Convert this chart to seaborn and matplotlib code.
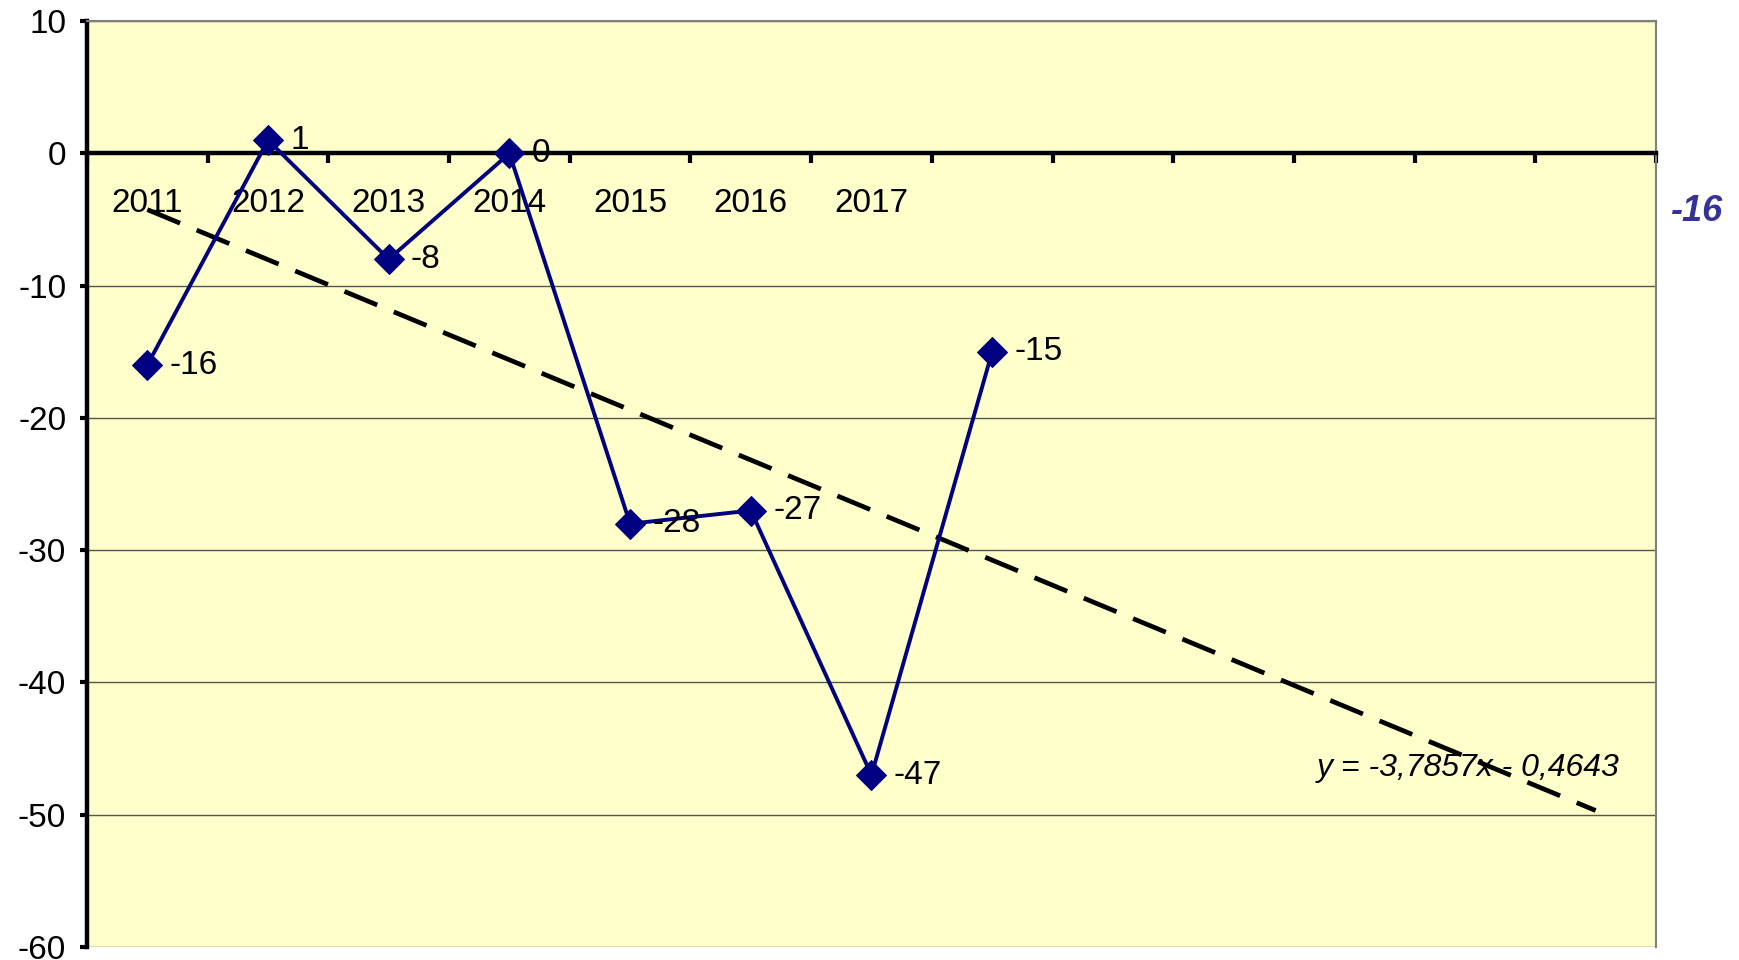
"""Yearly balance line chart with linear trend (Excel-style)."""

import numpy as np
import matplotlib
matplotlib.use("Agg")
import matplotlib.pyplot as plt
import seaborn as sns

# Data
years = ["2011", "2012", "2013", "2014", "2015", "2016", "2017", ""]
values = [-16, 1, -8, 0, -28, -27, -47, -15]
n_slots = 13
side_note = "-16"

LINE_COLOR = "#000080"
BG_COLOR = "#FFFFCC"

sns.set_style("white")
plt.rcParams["font.family"] = ["Liberation Sans", "DejaVu Sans"]
plt.rcParams["axes.unicode_minus"] = False

x = np.arange(1, len(values) + 1)
slope, intercept = np.polyfit(x, values, 1)
trend_x = np.array([1, n_slots])
trend_y = slope * trend_x + intercept

fig = plt.figure(figsize=(17.4, 9.6), dpi=100)
ax = fig.add_axes([0.05, 0.0135, 0.9017, 0.9645])
ax.set_facecolor(BG_COLOR)

# Trend line (dashed, black)
sns.lineplot(x=trend_x, y=trend_y, ax=ax, color="black", linewidth=3.4,
             linestyle=(0, (7.5, 3.8)), zorder=3)

# Series
sns.lineplot(x=x, y=values, ax=ax, color=LINE_COLOR, linewidth=2.8,
             marker="D", markersize=15, markeredgecolor=LINE_COLOR,
             markerfacecolor=LINE_COLOR, zorder=4)

for xi, v in zip(x, values):
    ax.annotate(f"{v}", (xi, v), xytext=(16, 0), textcoords="offset points",
                ha="left", va="center", fontsize=24, color="black", zorder=5)

ax.set_xlim(0.5, n_slots + 0.5)
ax.set_ylim(-60, 10)
ax.set_yticks(np.arange(-60, 11, 10))
ax.yaxis.grid(True, color="#555555", linewidth=1.0)
ax.set_axisbelow(True)
ax.tick_params(axis="y", left=True, labelsize=24, length=5, width=3,
               direction="out", pad=10, color="black", labelcolor="black")

# x axis crosses at zero
ax.spines["bottom"].set_position(("data", 0))
ax.spines["bottom"].set_linewidth(3.2)
ax.spines["bottom"].set_color("black")
ax.spines["bottom"].set_zorder(2.5)
ax.spines["left"].set_linewidth(3.2)
ax.spines["left"].set_color("black")
for side in ("top", "right"):
    ax.spines[side].set_color("#808080")
    ax.spines[side].set_linewidth(1.5)

ax.set_xticks(np.arange(0.5, n_slots + 1, 1))
ax.set_xticklabels([])
ax.tick_params(axis="x", which="major", bottom=True, length=7, width=3,
               direction="out", color="black")
ax.set_xticks(x, minor=True)
ax.set_xticklabels(years, minor=True)
ax.tick_params(axis="x", which="minor", bottom=True, length=0, pad=25,
               labelsize=24, labelcolor="black")

ax.set_xlabel("")
ax.set_ylabel("")

eq = f"y = {slope:.4f}x - {abs(intercept):.4f}".replace(".", ",")
ax.text(13.2, -46.5, eq, ha="right", va="center", fontsize=23,
        style="italic", color="black", zorder=2)

fig.text(0.975, 0.78, side_note, ha="center", va="center", fontsize=26,
         fontweight="bold", style="italic", color="#333399")

fig.savefig("out.png", dpi=100, facecolor="white")
plt.close(fig)
